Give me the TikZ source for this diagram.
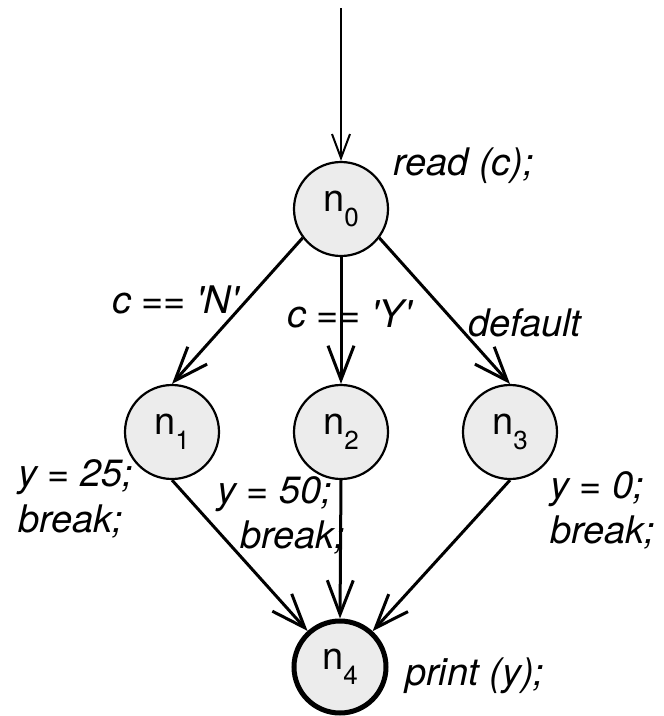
\documentclass[tikz,border=0pt]{standalone}
\usepackage{fontspec}
\setmainfont{TeX Gyre Heros}
\usetikzlibrary{arrows.meta}
\newcommand{\nsub}[1]{n\raisebox{-15pt}{\fontsize{26}{26}\selectfont #1}}
\newcommand{\sq}{\textquotesingle}
\tikzset{
  state/.style={circle, draw=black, line width=2.2pt, fill=gray!15, minimum size=94pt, inner sep=0pt, font=\fontsize{38}{44}\selectfont},
  final/.style={state, line width=5pt, minimum size=92pt},
  lbl/.style={anchor=base west, inner sep=0pt, font=\fontsize{38}{44}\selectfont\itshape},
  edge/.style={line width=3pt, -{Straight Barb[length=34pt,width=26pt,line width=3pt]}},
  inedge/.style={line width=2pt, -{Straight Barb[length=24pt,width=18pt,line width=2pt]}}
}
\begin{document}
\begin{tikzpicture}[x=1pt,y=-1pt]
\useasboundingbox (0,0) rectangle (664,716);
\node[state] (n0) at (341,209) {\nsub{0}};
\node[state] (n1) at (172,432) {\nsub{1}};
\node[state] (n2) at (341,432) {\nsub{2}};
\node[state] (n3) at (510,432) {\nsub{3}};
\node[final] (n4) at (340,667) {\nsub{4}};
\coordinate (start) at (341,8);

\node[lbl] (lread) at (393,175) {read (c);};
\node[lbl] (lN) at (112,313) {c == \sq N\sq};
\node[lbl] (lY) at (287,327) {c == \sq Y\sq};
\node[lbl] (ldef) at (468,336) {default};
\node[lbl] (l1a) at (18,486) {y = 25;};
\node[lbl] (l1b) at (18,532) {break;};
\node[lbl] (l2a) at (217,503) {y = 50;};
\node[lbl] (l2b) at (240,548) {break;};
\node[lbl] (l3a) at (550,498) {y = 0;};
\node[lbl] (l3b) at (550,543) {break;};
\node[lbl] (lprint) at (405,685) {print (y);};

\draw[inedge] (start) -- (n0.north);
\draw[edge] (n0.-143) -- (n1.north);
\draw[edge] (n0.south) -- (n2.north);
\draw[edge] (n0.-37) -- (n3.north);
\draw[edge] (n1.south) -- (n4);
\draw[edge] (n2.south) -- (n4.north);
\draw[edge] (n3.south) -- (n4);
\end{tikzpicture}
\end{document}
